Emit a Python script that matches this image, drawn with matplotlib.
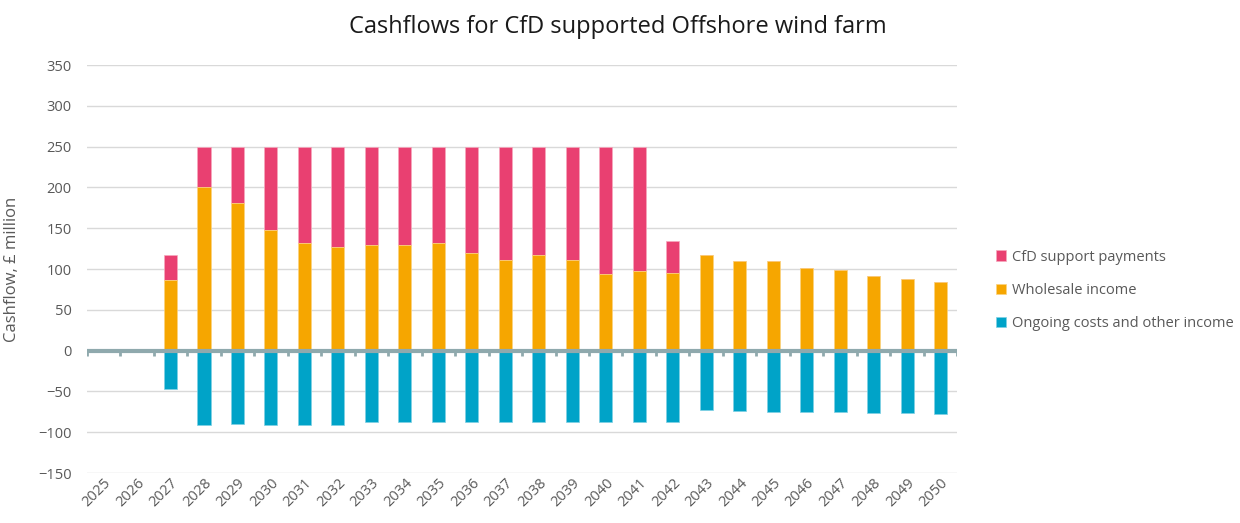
import numpy as np
import matplotlib

matplotlib.use("Agg")
import matplotlib.pyplot as plt

# -- Data (£ million) ---------------------------------------------------------

years = list(range(2025, 2051))
wholesale = [0, 0, 87, 200, 181, 148, 132, 127, 130, 130, 132, 120, 111, 117,
             111, 94, 97, 95, 117, 110, 110, 101, 99, 92, 88, 84]
cfd = [0, 0, 30, 50, 69, 102, 118, 123, 120, 120, 118, 130, 139, 133,
       139, 156, 153, 39, 0, 0, 0, 0, 0, 0, 0, 0]
ongoing = [0, 0, -47, -91, -90, -91, -91, -91, -88, -88, -87, -87, -87, -87,
           -87, -87, -87, -87, -73, -74, -75, -75, -75, -77, -77, -78]

series_labels = ["CfD support payments", "Wholesale income",
                 "Ongoing costs and other income"]
colors = ["#E94071", "#F6A600", "#00A3C8"]
text_grey = "#595959"

plt.rcParams["font.family"] = ["Open Sans", "DejaVu Sans"]

fig = plt.figure(figsize=(12.4, 5.23), dpi=100)
ax = fig.add_axes([0.070, 0.0956, 0.702, 0.780])

x = np.arange(len(years))
w = 0.39
ax.bar(x, cfd, w, bottom=wholesale, color=colors[0], edgecolor="#f6a9be",
       linewidth=0.5, label=series_labels[0], zorder=3)
ax.bar(x, wholesale, w, color=colors[1], edgecolor="#fbd27f",
       linewidth=0.5, label=series_labels[1], zorder=3)
ax.bar(x, ongoing, w, color=colors[2], edgecolor="#80d1e3",
       linewidth=0.5, label=series_labels[2], zorder=3)

ax.set_xlim(-0.5, len(years) - 0.5)
ax.set_ylim(-150, 350)
ax.set_yticks(np.arange(-150, 351, 50))
ax.grid(axis="y", color="#D9D9D9", linewidth=1.0, zorder=0)

for s in ax.spines.values():
    s.set_visible(False)

# zero line with category separator ticks
ax.axhline(0, color="#8FA9AD", linewidth=3, zorder=4)
for b in np.arange(-0.5, len(years), 1.0):
    ax.plot([b, b], [0, -6.5], color="#8FA9AD", linewidth=2.0, zorder=4,
            solid_capstyle="butt")

ax.set_xticks(x)
ax.set_xticklabels([str(y) for y in years], rotation=45, ha="right",
                   rotation_mode="anchor", fontsize=10.5, color=text_grey)
ax.tick_params(axis="x", length=0, pad=2)
ax.tick_params(axis="y", length=0, labelsize=10.5, labelcolor=text_grey, pad=11)

ax.set_ylabel("Cashflow, £ million", fontsize=12, color=text_grey)
ax.yaxis.set_label_coords(-0.077, 0.5)

fig.suptitle("Cashflows for CfD supported Offshore wind farm", x=0.498, y=0.972,
             fontsize=17, color="#1a1a1a")

handles, labels = ax.get_legend_handles_labels()
ax.legend(handles, labels, loc="center left", bbox_to_anchor=(1.029, 0.448),
          frameon=False, fontsize=10.5, labelcolor=text_grey, handlelength=0.7,
          handleheight=0.7, handletextpad=0.4, labelspacing=1.25)

fig.savefig("out.png", dpi=100)
